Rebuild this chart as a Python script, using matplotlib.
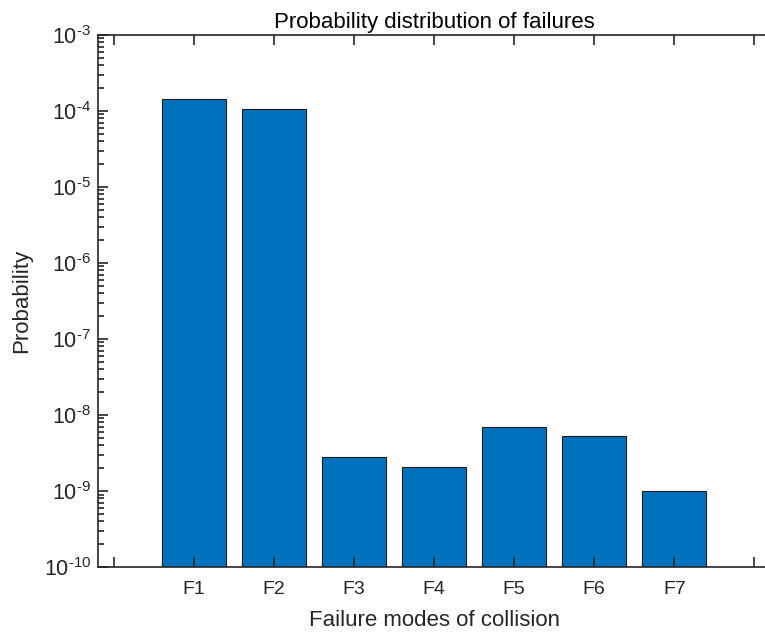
import numpy as np
import matplotlib.pyplot as plt
from matplotlib.ticker import LogLocator, FixedLocator, NullFormatter, FuncFormatter

plt.rcParams['font.family'] = ['Liberation Sans', 'DejaVu Sans']
plt.rcParams['mathtext.fontset'] = 'custom'
plt.rcParams['mathtext.rm'] = 'Liberation Sans'

# failure modes and their probabilities
modes = ['F1', 'F2', 'F3', 'F4', 'F5', 'F6', 'F7']
probs = [1.44e-4, 1.06e-4, 2.72e-9, 2.0e-9, 6.95e-9, 5.14e-9, 8.9e-10]

fig = plt.figure(figsize=(7.65, 6.35), dpi=100)
# right edge of the box runs just past the picture, like the reference
ax = fig.add_axes([0.128, 0.107, 0.879, 0.838])

x = np.arange(1, len(modes) + 1)
ax.bar(x, probs, width=0.8, color='#0072BD', edgecolor='#1a1a1a', linewidth=0.8, bottom=1e-10)
ax.set_yscale('log')
ax.set_ylim(1e-10, 1e-3)
ax.set_xlim(-0.2, 8.2)

ax.xaxis.set_major_locator(FixedLocator(np.arange(0, 9)))
ax.set_xticklabels([''] + modes + [''])
ax.yaxis.set_major_locator(LogLocator(base=10, numticks=20))
ax.yaxis.set_minor_locator(LogLocator(base=10, subs=np.arange(2, 10), numticks=20))
ax.yaxis.set_minor_formatter(NullFormatter())
ax.yaxis.set_major_formatter(FuncFormatter(
    lambda v, p: r'$\mathregular{10^{\text{%d}}}$' % int(round(np.log10(v)))))

ax.tick_params(axis='both', which='both', direction='in', top=True, right=False,
               colors='#262626', width=1.2)
ax.tick_params(axis='x', labelsize=14, pad=10)
ax.tick_params(axis='y', labelsize=15.5, pad=5)
ax.tick_params(axis='both', which='major', length=7)
ax.tick_params(axis='both', which='minor', length=4)
for s in ax.spines.values():
    s.set_color('#262626')
    s.set_linewidth(1.2)

ax.set_xlabel('Failure modes of collision', fontsize=16, color='#262626', labelpad=9)
ax.set_ylabel('Probability', fontsize=16, color='#262626', labelpad=8)
ax.set_title('Probability distribution of failures', fontsize=16, color='black', y=1.013, pad=0)

fig.savefig('out.png', dpi=100)
